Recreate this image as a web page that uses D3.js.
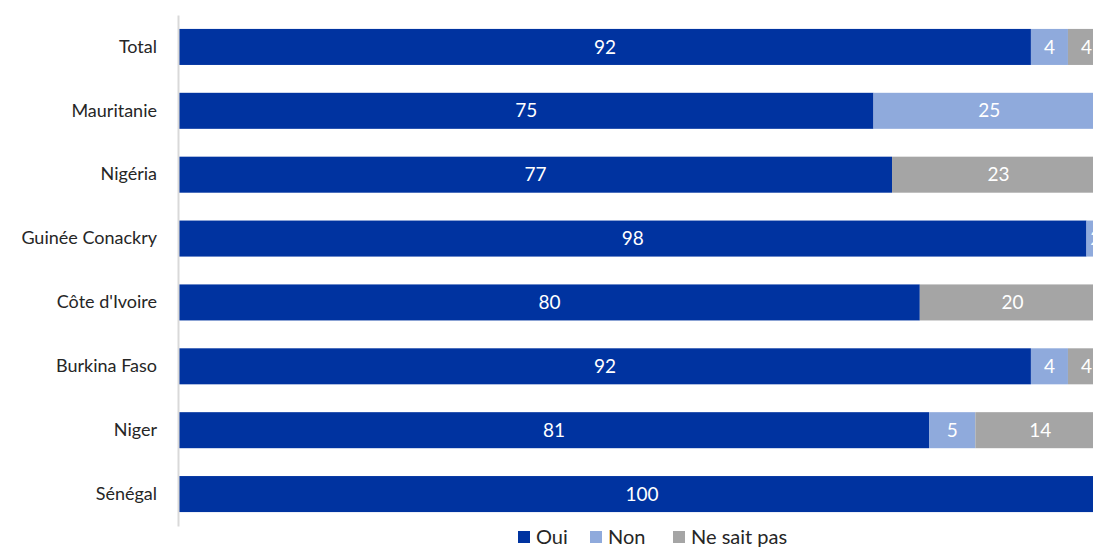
<!DOCTYPE html>
<html>
<head>
<meta charset="utf-8">
<script src="https://cdn.jsdelivr.net/npm/d3@7"></script>
<style>
  html, body { margin: 0; padding: 0; background: #fff; overflow: hidden; }
  svg { display: block; }
</style>
</head>
<body>
<svg id="chart" width="1093" height="547"></svg>
<script>
// Category labels, top to bottom
const categories = ["Total", "Mauritanie", "Nigéria", "Guinée Conackry", "Côte d'Ivoire", "Burkina Faso", "Niger", "Sénégal"];
// Percentages per answer
const oui      = [92, 75, 77, 98, 80, 92, 81, 100];
const non      = [4, 25, 0, 2, 0, 4, 5, 0];
const neSaitPas = [4, 0, 23, 0, 20, 4, 14, 0];
const seriesNames = ["Oui", "Non", "Ne sait pas"];
const seriesColors = ["#0033A0", "#8FAADC", "#A5A5A5"];

const rows = categories.map((c, i) => ({ cat: c, Oui: oui[i], Non: non[i], "Ne sait pas": neSaitPas[i] }));
const stacked = d3.stack().keys(seriesNames)(rows);

const svg = d3.select("#chart");
const font = "Lato, 'Open Sans', sans-serif";

const x = d3.scaleLinear().domain([0, 100]).range([179, 1105]);
const y = d3.scaleBand().domain(categories).range([15, 526]).paddingInner(0.436).paddingOuter(0.218);

// Stacked bars
const layers = svg.append("g").selectAll("g").data(stacked).join("g")
  .attr("fill", (d, i) => seriesColors[i]);

layers.selectAll("rect").data(d => d.filter(p => p[1] - p[0] > 0)).join("rect")
  .attr("x", p => x(p[0]))
  .attr("y", p => y(p.data.cat))
  .attr("width", p => x(p[1]) - x(p[0]))
  .attr("height", y.bandwidth());

// Value labels
layers.selectAll("text").data(d => d.filter(p => p[1] - p[0] > 0)).join("text")
  .attr("x", p => (x(p[0]) + x(p[1])) / 2)
  .attr("y", p => y(p.data.cat) + y.bandwidth() / 2)
  .attr("dy", "0.35em")
  .attr("text-anchor", "middle")
  .attr("fill", "#fff")
  .style("font-family", font)
  .style("font-size", "19px")
  .text(p => p[1] - p[0]);

// Category axis
const yAxis = svg.append("g").attr("transform", "translate(178,0)")
  .call(d3.axisLeft(y).tickSize(0).tickPadding(21));
yAxis.select(".domain").attr("stroke", "#D9D9D9").attr("stroke-width", 2);
yAxis.selectAll("text")
  .style("font-family", font)
  .style("font-size", "18px")
  .attr("fill", "#262626");

// Legend
const legendItems = [
  { name: "Oui", x: 518 },
  { name: "Non", x: 590 },
  { name: "Ne sait pas", x: 673 }
];
const legend = svg.append("g").selectAll("g").data(legendItems).join("g")
  .attr("transform", d => `translate(${d.x},531)`);
legend.append("rect")
  .attr("width", 12).attr("height", 12)
  .attr("fill", (d, i) => seriesColors[i]);
legend.append("text")
  .attr("x", 18).attr("y", 6).attr("dy", "0.37em")
  .style("font-family", font)
  .style("font-size", "20px")
  .attr("fill", "#262626")
  .text(d => d.name);
</script>
</body>
</html>
